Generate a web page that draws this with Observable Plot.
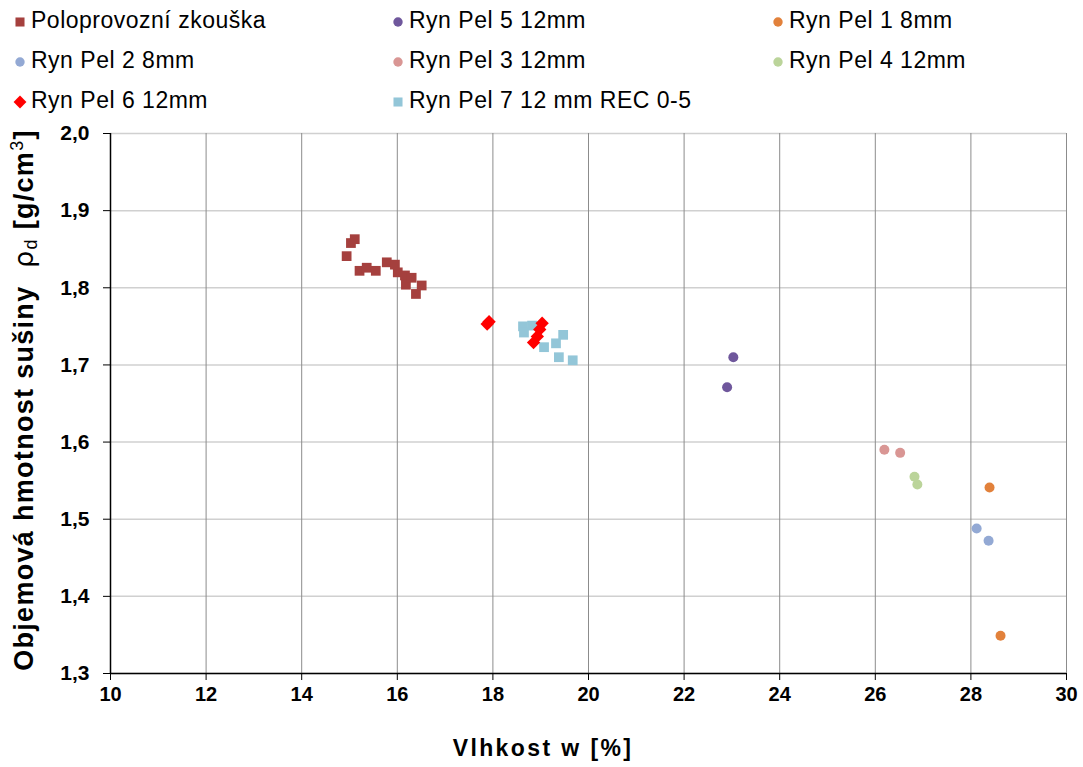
<!DOCTYPE html>
<html><head><meta charset="utf-8">
<script src="https://cdn.jsdelivr.net/npm/d3@7"></script>
<script src="https://cdn.jsdelivr.net/npm/@observablehq/plot@0.6"></script>
<style>
body{margin:0;background:#fff;font-family:Arial,"Liberation Sans",sans-serif;}
#wrap{position:relative;width:1083px;height:767px;overflow:hidden;}
#legend{position:absolute;left:0;top:0;width:1083px;height:120px;}
.li{position:absolute;font-size:23px;letter-spacing:0.5px;color:#000;white-space:nowrap;line-height:23px;display:flex;align-items:center;}
.li svg{margin-right:3px;}
#chart{position:absolute;left:0;top:120px;}
</style></head>
<body><div id="wrap"><div id="legend"></div><div id="chart"></div></div>
<script>
// Series names, colours and symbols
const seriesNames = ["Poloprovozní zkouška","Ryn Pel 5 12mm","Ryn Pel 1 8mm","Ryn Pel 2 8mm","Ryn Pel 3 12mm","Ryn Pel 4 12mm","Ryn Pel 6 12mm","Ryn Pel 7 12 mm REC 0-5"];
const seriesColors = ["#A5403E","#6F579C","#E2813B","#93A9D4","#D99694","#BBD49A","#FF0000","#93C6D8"];
const seriesSymbols = ["square","circle","circle","circle","circle","circle","diamond2","square"];

// Moisture w [%] and dry density [g/cm3] per series
const poloX = [14.94,15.03,15.11,15.21,15.36,15.55,15.78,15.95,16.01,16.16,16.18,16.30,16.39,16.51];
const poloY = [1.841,1.858,1.863,1.822,1.826,1.822,1.833,1.830,1.820,1.816,1.804,1.813,1.792,1.803];
const pel5X = [23.03,22.90];
const pel5Y = [1.710,1.671];
const pel1X = [28.39,28.62];
const pel1Y = [1.541,1.349];
const pel2X = [28.12,28.37];
const pel2Y = [1.488,1.472];
const pel3X = [26.19,26.52];
const pel3Y = [1.590,1.586];
const pel4X = [26.82,26.88];
const pel4Y = [1.555,1.545];
const pel6X = [17.88,17.92,19.03,18.98,18.93,18.85];
const pel6Y = [1.753,1.756,1.754,1.746,1.737,1.729];
const pel7X = [18.63,18.82,18.65,19.07,19.32,19.47,19.38,19.67];
const pel7Y = [1.750,1.751,1.742,1.723,1.728,1.739,1.710,1.706];

const xTicks = [10,12,14,16,18,20,22,24,26,28,30];
const yTicks = [1.3,1.4,1.5,1.6,1.7,1.8,1.9,2.0];

const seriesX = [poloX,pel5X,pel1X,pel2X,pel3X,pel4X,pel6X,pel7X];
const seriesY = [poloY,pel5Y,pel1Y,pel2Y,pel3Y,pel4Y,pel6Y,pel7Y];

const rows = [];
seriesNames.forEach((s,i)=>seriesX[i].forEach((x,j)=>rows.push({series:s,i,x,y:seriesY[i][j]})));

// legend
const leg = d3.select("#legend");
const colX = [12,390,770];
const rowY = [9,49,89];
const legR = {square:5.1, circle:4.7, diamond2:5.8};
seriesNames.forEach((s,i)=>{
  const item = leg.append("div").attr("class","li")
    .style("left",colX[i%3]+"px").style("top",rowY[Math.floor(i/3)]+"px");
  const sv = item.append("svg").attr("width",16).attr("height",20);
  const sym = {square:d3.symbolSquare,circle:d3.symbolCircle,diamond2:d3.symbolDiamond2}[seriesSymbols[i]];
  const r = legR[seriesSymbols[i]];
  sv.append("path").attr("transform","translate(8,11)")
    .attr("d",d3.symbol(sym, r*r*Math.PI)()).attr("fill",seriesColors[i]);
  item.append("span").text(s);
});

const fmtY = d=>d.toFixed(1).replace(".",",");
const mk = (i,r)=>Plot.dot(rows.filter(d=>d.i===i),{x:"x",y:"y",symbol:()=>seriesSymbols[i],fill:seriesColors[i],r});
const plot = Plot.plot({
  width:1083, height:647,
  marginTop:13, marginBottom:94, marginLeft:110, marginRight:17,
  style:{fontFamily:"Arial, 'Liberation Sans', sans-serif", background:"#fff", overflow:"visible"},
  x:{domain:[10,30], ticks:xTicks, label:null},
  y:{domain:[1.3,2.0], ticks:yTicks, label:null},
  symbol:{type:"identity"},
  marks:[
    Plot.gridY(yTicks,{stroke:"#d0d0d0", strokeOpacity:1, strokeWidth:1.5}),
    Plot.gridX(xTicks.slice(1),{stroke:"#8c8c8c", strokeOpacity:1, strokeWidth:1}),
    Plot.axisX(xTicks,{tickSize:7, tickPadding:6, fontSize:20, fontWeight:"bold", fill:"#000"}),
    Plot.axisY(yTicks,{tickSize:7, tickPadding:14, fontSize:21, fontWeight:"bold", tickFormat:fmtY, fill:"#000"}),
    Plot.ruleX([10],{stroke:"#000", strokeWidth:1.5, y1:1.3, y2:2.0}),
    Plot.ruleY([1.3],{stroke:"#000", strokeWidth:1.5}),
    mk(0,5.5), mk(1,5), mk(2,5), mk(3,5), mk(4,5), mk(5,5), mk(7,5.5), mk(6,6)
  ]
});
document.getElementById("chart").appendChild(plot);

const svg = d3.select(plot);
const xs = plot.scale("x"), ys = plot.scale("y");
svg.append("text").attr("x",543).attr("y",636)
  .attr("text-anchor","middle").attr("font-size",23).attr("font-weight","bold")
  .attr("letter-spacing","2.4px").attr("fill","#000").text("Vlhkost w [%]");

const yl = svg.append("text").attr("transform",`translate(33,${(ys.range[0]+ys.range[1])/2 - 3}) rotate(-90)`)
  .attr("text-anchor","middle").attr("font-size",27).attr("font-weight","bold")
  .attr("letter-spacing","1.3px").attr("fill","#000");
yl.append("tspan").text("Objemová hmotnost sušiny  ");
yl.append("tspan").attr("font-weight","normal").attr("font-family","'DejaVu Sans', sans-serif").text("ρ");
yl.append("tspan").attr("font-weight","normal").attr("font-size",18).attr("dy",4).text("d");
yl.append("tspan").attr("dy",-4).text(" [g/cm");
yl.append("tspan").attr("font-weight","normal").attr("font-size",18).attr("dy",-10).text("3");
yl.append("tspan").attr("dy",10).text("]");
</script></body></html>
